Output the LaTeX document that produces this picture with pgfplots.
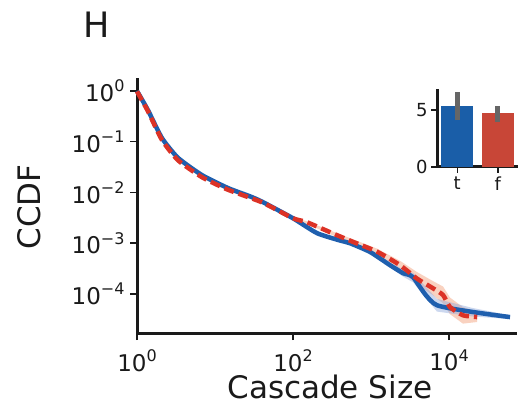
\documentclass[border=0pt]{standalone}
\usepackage{pgfplots}
\pgfplotsset{compat=1.18}
\usepackage{fontspec}
\setmainfont{DejaVu Sans}
\definecolor{lblue}{HTML}{1F5FAE}
\definecolor{lred}{HTML}{DC3226}
\definecolor{bblue}{HTML}{1A5EA8}
\definecolor{bred}{HTML}{C84637}
\definecolor{band}{HTML}{F4A582}
\definecolor{bandb}{HTML}{8FA8DC}
\definecolor{spine}{HTML}{1A1A1A}
\newcommand{\tl}[1]{\mbox{\fontsize{23bp}{25bp}\selectfont 10\raisebox{0.42em}{\fontsize{16bp}{16bp}\selectfont #1}}}
\begin{document}
\begin{tikzpicture}
\useasboundingbox (0bp,0bp) rectangle (519bp,413bp);
\begin{axis}[
  at={(137bp,80bp)}, anchor=south west,
  scale only axis, width=380bp, height=255bp,
  xmode=log, ymode=log,
  xmin=1, xmax=74500, ymin=1.7e-5, ymax=1.8,
  axis x line*=bottom, axis y line*=left,
  axis line style={line width=3bp, spine},
  every outer x axis line/.append style={-}, every outer y axis line/.append style={-},
  tick align=outside,
  major tick length=7bp, minor tick length=4bp,
  every tick/.style={spine, line width=1.5bp},
  xtick={1,100,10000}, xticklabels={\tl{0},\tl{2},\tl{4}},
  ytick={1,0.1,0.01,0.001,0.0001},
  yticklabels={\tl{0},\tl{−1},\tl{−2},\tl{−3},\tl{−4}},
  xminorticks=false,
  tick label style={font=\fontsize{23bp}{25bp}\selectfont, text=spine},
  xticklabel style={yshift=-6bp},
  yticklabel style={xshift=-2bp},
  clip=false,
]
% red band (lower forward, upper backward)
\addplot[fill=band, fill opacity=0.5, draw=none, forget plot] coordinates {
(1,0.97) (1.38,0.385) (2.09,0.104) (3.36,0.041) (6.8,0.019) (14.7,0.0107) (40,0.0061) (100,0.0029) (150,0.0024) (366,0.00132) (600,0.00095) (1200,0.0006) (2350,3.1e-4) (3900,1.55e-4) (6200,0.95e-4) (8400,6.5e-5) (10300,4.0e-5) (15100,2.6e-5) (23000,2.8e-5)
(23000,4.4e-5) (15100,5.5e-5) (10300,8.5e-5) (8400,1.4e-4) (6200,1.8e-4) (3900,2.7e-4) (2350,4.5e-4) (1200,0.00078) (600,0.00118) (366,0.00158) (150,0.0027) (100,0.0033) (40,0.0068) (14.7,0.0119) (6.8,0.021) (3.36,0.045) (2.09,0.113) (1.38,0.415) (1,1.0)} -- cycle;
% blue band
\addplot[fill=bandb, fill opacity=0.45, draw=none, forget plot] coordinates {
(2000,2.9e-4) (2570,2.2e-4) (3460,1.7e-4) (7000,4.5e-5) (20000,3.6e-5) (60600,3.2e-5)
(60600,3.8e-5) (20000,5.3e-5) (7000,8.0e-5) (3460,2.6e-4) (2570,3.0e-4) (2000,3.8e-4)} -- cycle;
% blue line
\addplot[lblue, line width=4.5bp, line join=round, smooth, tension=0.35] coordinates {
(1,1) (1.38,0.42) (2.09,0.118) (3.36,0.048) (6.8,0.022) (14.7,0.0122) (28,0.0084) (40,0.0066) (100,0.0031) (203,0.00158) (400,0.00113) (537,0.001) (975,6.7e-4) (1750,3.7e-4) (2570,2.57e-4) (3460,2.14e-4) (7000,6.0e-5) (60600,3.5e-5)};
% red dashed line
\addplot[lred, line width=4.5bp, dash pattern=on 10bp off 5bp, smooth, tension=0.35] coordinates {
(1,0.98) (1.38,0.40) (2.09,0.108) (3.36,0.043) (6.8,0.020) (14.7,0.0113) (40,0.0064) (100,0.0031) (150,0.0026) (366,0.00144) (600,0.00105) (1200,0.00068) (2350,3.7e-4) (3900,2.0e-4) (6200,1.3e-4) (8400,9.5e-5) (10300,5.5e-5) (15100,3.8e-5) (23000,3.5e-5)};
\end{axis}
% inset
\begin{axis}[
  at={(437bp,246bp)}, anchor=south west,
  scale only axis, width=81bp, height=78bp,
  xmin=-0.5, xmax=1.5, ymin=0, ymax=6.85,
  axis x line*=bottom, axis y line*=left,
  axis line style={line width=3bp, spine},
  every outer x axis line/.append style={-}, every outer y axis line/.append style={-},
  tick align=outside, major tick length=6bp,
  every tick/.style={spine, line width=1.5bp},
  xtick={0,1}, xticklabels={t,f},
  ytick={0,5}, yticklabels={0,5},
  tick label style={font=\fontsize{18bp}{20bp}\selectfont, text=spine},
  clip=false,
]
\addplot[ybar, bar width=0.8, bar shift=0pt, fill=bblue, draw=none] coordinates {(0,5.35)};
\addplot[ybar, bar width=0.8, bar shift=0pt, fill=bred, draw=none] coordinates {(1,4.74)};
\addplot[draw=none, mark=none, error bars/.cd, y dir=both, y explicit, error bar style={line width=5bp, color=black!60}, error mark=none]
  coordinates {(0,5.35) +- (0,1.25)};
\addplot[draw=none, mark=none, error bars/.cd, y dir=both, y explicit, error bar style={line width=5bp, color=black!60}, error mark=none]
  coordinates {(1,4.74) += (0,0.61) -= (0,0.79)};
\end{axis}
\node[font=\fontsize{35bp}{36bp}\selectfont, text=spine] at (97bp,388bp) {H};
\node[font=\fontsize{31bp}{32bp}\selectfont, text=spine] at (330bp,26bp) {Cascade Size};
\node[font=\fontsize{31bp}{32bp}\selectfont, text=spine, rotate=90] at (29bp,206bp) {CCDF};
\end{tikzpicture}
\end{document}
